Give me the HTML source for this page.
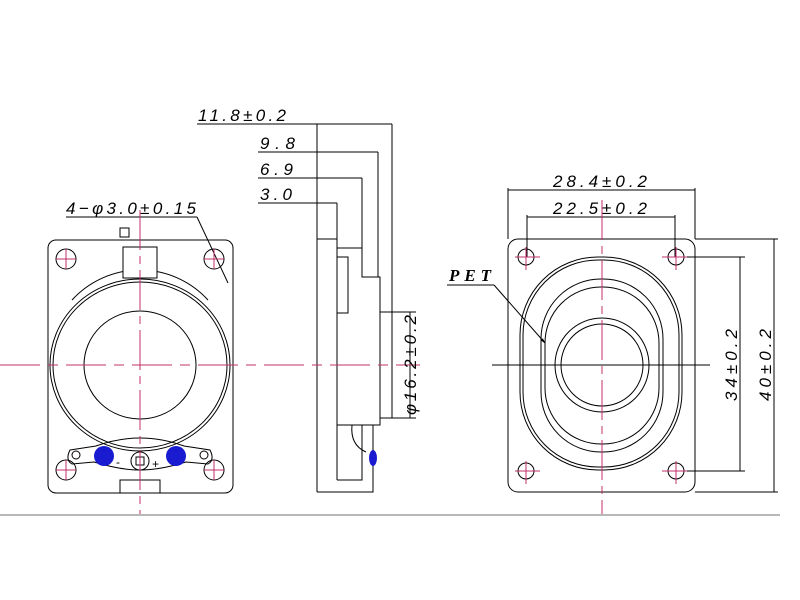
<!DOCTYPE html>
<html><head><meta charset="utf-8"><style>
html,body{margin:0;padding:0;background:#fff;}
svg{display:block}
text{font-family:"Liberation Sans",sans-serif;font-style:italic;font-size:17px;fill:#000}
</style></head><body>
<svg width="800" height="600" viewBox="0 0 800 600" xmlns="http://www.w3.org/2000/svg">
<defs>
<marker id="ar" markerWidth="6" markerHeight="6" refX="5" refY="3" orient="auto"><path d="M0,1.5 L6,3 L0,4.5z" fill="#000"/></marker>
</defs>
<g fill="none" stroke="#000" stroke-width="1">
<!-- LEFT VIEW -->
<rect x="48" y="240" width="185" height="253" rx="8"/>
<circle cx="66" cy="259" r="10"/><circle cx="214" cy="259" r="10"/>
<circle cx="66" cy="470" r="10"/><circle cx="214" cy="470" r="10"/>
<path d="M72,300 A92,92 0 0 1 208,300"/>
<ellipse cx="140" cy="365" rx="90" ry="86"/>
<ellipse cx="140" cy="365" rx="87" ry="83"/>
<ellipse cx="140" cy="365" rx="56" ry="54"/>
<rect x="123" y="247" width="34" height="31" fill="#fff"/>
<rect x="120" y="228" width="9" height="9"/>
<path d="M70,450 L96,446 Q140,430 184,446 L210,450 Q215,460 208,464 L186,462 Q160,470 140,470 Q120,470 94,462 L72,464 Q65,460 70,450z"/>
<circle cx="76" cy="455" r="4"/><circle cx="204" cy="455" r="4"/>
<circle cx="140" cy="461" r="9"/><rect x="136" y="457" width="8" height="8"/>
<path d="M120,493 V480 H160 V493"/>
<text x="116" y="466" stroke="none" style="font-size:12px;font-style:normal">-</text>
<text x="152" y="468" stroke="none" style="font-size:12px;font-style:normal">+</text>
<line x1="66" y1="217" x2="197" y2="217"/>
<line x1="197" y1="217" x2="228" y2="283"/>
<!-- SIDE VIEW -->
<line x1="317" y1="124" x2="317" y2="492"/>
<line x1="317" y1="239" x2="337" y2="239"/>
<line x1="337" y1="203" x2="337" y2="480"/>
<path d="M337,248 H362 V277 H380 V425 H337"/>
<rect x="337" y="257" width="11" height="56"/>
<path d="M380,312 H392 V418 H380"/>
<path d="M337,480 H362 V425 M373,425 V480 H373 V492 H317"/>
<path d="M352,425 Q350,445 366,452"/>
<line x1="197" y1="124" x2="392" y2="124"/><line x1="392" y1="124" x2="392" y2="312"/>
<line x1="258" y1="152" x2="378" y2="152"/><line x1="378" y1="152" x2="378" y2="277"/>
<line x1="258" y1="178" x2="362" y2="178"/><line x1="362" y1="178" x2="362" y2="248"/>
<line x1="258" y1="203" x2="337" y2="203"/>
<line x1="392" y1="312" x2="416" y2="312"/><line x1="392" y1="418" x2="416" y2="418"/>
<line x1="410" y1="312" x2="410" y2="418"/>
<!-- RIGHT VIEW -->
<rect x="508" y="239" width="187" height="253" rx="10"/>
<circle cx="526" cy="257" r="8"/><circle cx="676" cy="257" r="8"/>
<circle cx="526" cy="471" r="8"/><circle cx="676" cy="471" r="8"/>
<rect x="520" y="257" width="162" height="213" rx="78" ry="78"/>
<rect x="523" y="260" width="156" height="207" rx="75" ry="75"/>
<rect x="541" y="279" width="122" height="173" rx="60" ry="60"/>
<rect x="545" y="287" width="114" height="157" rx="56" ry="56"/>
<circle cx="602" cy="365" r="47"/>
<circle cx="602" cy="365" r="41"/>
<line x1="492" y1="365" x2="710" y2="365"/>
<line x1="508" y1="188" x2="508" y2="239"/><line x1="695" y1="188" x2="695" y2="239"/>
<line x1="508" y1="190" x2="695" y2="190"/>
<line x1="527" y1="215" x2="527" y2="257"/><line x1="675" y1="215" x2="675" y2="257"/>
<line x1="527" y1="217" x2="675" y2="217"/>
<line x1="684" y1="257" x2="745" y2="257"/><line x1="684" y1="471" x2="745" y2="471"/>
<line x1="740" y1="257" x2="740" y2="471"/>
<line x1="695" y1="239" x2="778" y2="239"/><line x1="695" y1="492" x2="778" y2="492"/>
<line x1="774" y1="239" x2="774" y2="492"/>
<line x1="447" y1="285" x2="494" y2="285"/>
<line x1="494" y1="285" x2="545" y2="343" marker-end="url(#ar)"/>
</g>
<g stroke="#c0306a" stroke-width="1" fill="none">
<line x1="140" y1="210" x2="140" y2="515" stroke-dasharray="40,6,8,6"/>
<line x1="0" y1="365" x2="420" y2="365" stroke-dasharray="40,8,10,8"/>
<line x1="602" y1="200" x2="602" y2="515" stroke-dasharray="40,6,8,6"/>
<line x1="56" y1="259" x2="76" y2="259"/><line x1="66" y1="249" x2="66" y2="269"/>
<line x1="204" y1="259" x2="224" y2="259"/><line x1="214" y1="249" x2="214" y2="269"/>
<line x1="56" y1="470" x2="76" y2="470"/><line x1="66" y1="460" x2="66" y2="480"/>
<line x1="204" y1="470" x2="224" y2="470"/><line x1="214" y1="460" x2="214" y2="480"/>
<line x1="515" y1="257" x2="540" y2="257"/><line x1="526" y1="247" x2="526" y2="270"/>
<line x1="662" y1="257" x2="687" y2="257"/><line x1="676" y1="247" x2="676" y2="270"/>
<line x1="515" y1="471" x2="540" y2="471"/><line x1="526" y1="461" x2="526" y2="484"/>
<line x1="662" y1="471" x2="687" y2="471"/><line x1="676" y1="461" x2="676" y2="484"/>
</g>
<circle cx="104" cy="456" r="10" fill="#1a1ad0"/>
<circle cx="176" cy="456" r="10" fill="#1a1ad0"/>
<ellipse cx="373" cy="458" rx="4" ry="8" fill="#1a1ad0"/>
<text x="66" y="214" textLength="130" lengthAdjust="spacing">4−φ3.0±0.15</text>
<text x="198" y="121" textLength="88" lengthAdjust="spacing">11.8±0.2</text>
<text x="260" y="149" textLength="35" lengthAdjust="spacing">9.8</text>
<text x="260" y="175" textLength="33" lengthAdjust="spacing">6.9</text>
<text x="260" y="200" textLength="32" lengthAdjust="spacing">3.0</text>
<text transform="translate(416,365) rotate(-90)" x="-50" textLength="100" lengthAdjust="spacing">φ16.2±0.2</text>
<text x="553" y="187" textLength="94" lengthAdjust="spacing">28.4±0.2</text>
<text x="553" y="214" textLength="94" lengthAdjust="spacing">22.5±0.2</text>
<text transform="translate(737,365) rotate(-90)" x="-36" textLength="72" lengthAdjust="spacing">34±0.2</text>
<text transform="translate(771,365) rotate(-90)" x="-36" textLength="72" lengthAdjust="spacing">40±0.2</text>
<text x="449" y="281" textLength="42" lengthAdjust="spacing" style="font-family:'Liberation Serif',serif;font-weight:bold">PET</text>
<rect x="0" y="514" width="780" height="2" fill="#b8b8b8"/>
</svg>
</body></html>
